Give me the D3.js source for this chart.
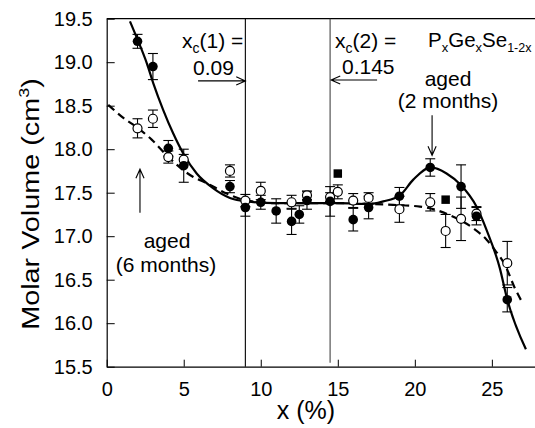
<!DOCTYPE html>
<html><head><meta charset="utf-8">
<script src="https://cdn.jsdelivr.net/npm/d3@7/dist/d3.min.js"></script>
<style>
html,body{margin:0;padding:0;background:#fff;}
svg{display:block;font-family:"Liberation Sans",Arial,sans-serif;}
</style></head>
<body><svg id="c" width="535" height="428"></svg>
<script>
// ---- data ----
const xTicks = [0, 5, 10, 15, 20, 25];
const yTicks = [15.5, 16.0, 16.5, 17.0, 17.5, 18.0, 18.5, 19.0, 19.5];

// filled circles (aged 2 months)
const filledX   = [2, 3, 4, 5, 8, 9, 10, 11, 12, 12.5, 13, 14.5, 16, 17, 19, 21, 23, 24, 26];
const filledY   = [19.24, 18.95, 18.01, 17.81, 17.57, 17.33, 17.39, 17.29, 17.17, 17.25, 17.41, 17.40, 17.19, 17.33, 17.46, 17.79, 17.57, 17.23, 16.27];
const filledErr = [0.08, 0.15, 0.09, 0.19, 0.07, 0.10, 0.08, 0.14, 0.15, 0.10, 0.10, 0.17, 0.13, 0.13, 0.10, 0.10, 0.25, 0.10, 0.14];

// open circles (aged 6 months)
const openX   = [2, 3, 4, 5, 8, 9, 10, 12, 13, 14.5, 15, 16, 17, 19, 21, 22, 23, 24, 26];
const openY   = [18.24, 18.35, 17.91, 17.88, 17.75, 17.41, 17.52, 17.39, 17.47, 17.45, 17.51, 17.41, 17.44, 17.31, 17.39, 17.06, 17.20, 17.26, 16.69];
const openErr = [0.11, 0.10, 0.07, 0.06, 0.07, 0.07, 0.10, 0.08, 0.05, 0.05, 0.08, 0.08, 0.06, 0.15, 0.10, 0.19, 0.25, 0.08, 0.25];

// filled squares
const squareX = [15, 22];
const squareY = [17.72, 17.42];

// fitted curves (read-off samples)
const solidX = [1.51, 2.05, 2.6, 3.02, 3.67, 4.32, 4.97, 5.84, 6.92, 8.0, 9.08, 11, 13, 15, 17.1, 17.95, 19.03, 19.9, 21.04, 22.06, 22.97, 24.0, 24.66, 25.52, 25.96, 27.21];
const solidY = [19.47, 19.24, 18.99, 18.76, 18.45, 18.18, 17.95, 17.72, 17.55, 17.44, 17.40, 17.38, 17.38, 17.38, 17.37, 17.40, 17.47, 17.65, 17.79, 17.72, 17.59, 17.34, 17.07, 16.63, 16.30, 15.70];
const dashX = [0.1, 1.08, 2.05, 2.92, 4.0, 5.62, 6.49, 7.79, 8.86, 11, 13, 15, 17.1, 18.6, 20.33, 21.4, 22.28, 23.8, 24.66, 25.2, 25.85, 26.5, 27.0];
const dashY = [18.51, 18.36, 18.24, 18.11, 17.91, 17.68, 17.61, 17.49, 17.42, 17.38, 17.38, 17.38, 17.37, 17.36, 17.34, 17.30, 17.24, 17.09, 16.96, 16.84, 16.67, 16.40, 16.23];

// critical compositions
const critX = [9, 14.5];

// ---- drawing ----
const svg = d3.select("#c");
const L = 106.7, R = 535, T = 18.7, B = 366.7;
const x = d3.scaleLinear().domain([0, 27.8]).range([L, R]);
const y = d3.scaleLinear().domain([15.5, 19.5]).range([B, T]);
const font = '"Liberation Sans",Arial,sans-serif';

// top border
svg.append("line").attr("x1", L).attr("x2", R).attr("y1", T).attr("y2", T)
  .attr("stroke", "#000").attr("stroke-width", 1.2);

// axes
const gy = svg.append("g").attr("transform", `translate(${L},0)`)
  .call(d3.axisLeft(y).tickValues(yTicks).tickSizeInner(-8).tickSizeOuter(0).tickPadding(14).tickFormat(d3.format(".1f")));
const gx = svg.append("g").attr("transform", `translate(0,${B})`)
  .call(d3.axisBottom(x).tickValues(xTicks).tickSizeInner(-7).tickSizeOuter(0).tickPadding(15).tickFormat(d3.format("d")));
[gx, gy].forEach(g => {
  g.select(".domain").attr("stroke", "#000").attr("stroke-width", 1.2);
  g.selectAll(".tick line").attr("stroke", "#000").attr("stroke-width", 1);
  g.selectAll(".tick text").attr("font-size", 20).attr("font-family", font).attr("fill", "#000");
});

// vertical critical lines
svg.selectAll("line.crit").data(critX).join("line").attr("class", "crit")
  .attr("x1", d => x(d)).attr("x2", d => x(d))
  .attr("y1", T).attr("y2", (d, i) => i === 0 ? B : B - 4)
  .attr("stroke", (d, i) => i === 0 ? "#000" : "#444").attr("stroke-width", 1.1);

// fitted curves
const solidPts = solidX.map((v, i) => [v, solidY[i]]);
const dashPts = dashX.map((v, i) => [v, dashY[i]]);
const line = d3.line().x(d => x(d[0])).y(d => y(d[1])).curve(d3.curveMonotoneX);
svg.append("path").attr("d", line(solidPts)).attr("fill", "none")
  .attr("stroke", "#000").attr("stroke-width", 2.2);
svg.append("path").attr("d", line(dashPts)).attr("fill", "none")
  .attr("stroke", "#000").attr("stroke-width", 2.2).attr("stroke-dasharray", "8,5");

// error bars
function errBars(xs, ys, es) {
  const d = xs.map((v, i) => ({x: v, y: ys[i], e: es[i]}));
  const g = svg.append("g").attr("stroke", "#000").attr("stroke-width", 1.1);
  g.selectAll("line.v").data(d).join("line").attr("class", "v")
    .attr("x1", p => x(p.x)).attr("x2", p => x(p.x))
    .attr("y1", p => y(p.y - p.e)).attr("y2", p => y(p.y + p.e));
  g.selectAll("line.t").data(d).join("line").attr("class", "t")
    .attr("x1", p => x(p.x) - 5).attr("x2", p => x(p.x) + 5)
    .attr("y1", p => y(p.y + p.e)).attr("y2", p => y(p.y + p.e));
  g.selectAll("line.b").data(d).join("line").attr("class", "b")
    .attr("x1", p => x(p.x) - 5).attr("x2", p => x(p.x) + 5)
    .attr("y1", p => y(p.y - p.e)).attr("y2", p => y(p.y - p.e));
}
errBars(openX, openY, openErr);
errBars(filledX, filledY, filledErr);

// markers
svg.append("g").selectAll("circle").data(openX.map((v, i) => [v, openY[i]])).join("circle")
  .attr("cx", d => x(d[0])).attr("cy", d => y(d[1])).attr("r", 4.5)
  .attr("fill", "#fff").attr("stroke", "#000").attr("stroke-width", 1.2);
svg.append("g").selectAll("circle").data(filledX.map((v, i) => [v, filledY[i]])).join("circle")
  .attr("cx", d => x(d[0])).attr("cy", d => y(d[1])).attr("r", 4.8)
  .attr("fill", "#000");
svg.append("g").selectAll("path").data(squareX.map((v, i) => [v, squareY[i]])).join("path")
  .attr("transform", d => `translate(${x(d[0])},${y(d[1])})`)
  .attr("d", d3.symbol(d3.symbolSquare, 72)).attr("fill", "#000");

// arrows (open heads)
function arrow(x1, y1, x2, y2) {
  const ang = Math.atan2(y2 - y1, x2 - x1), h = 10, w = 0.42;
  const p = d3.path();
  p.moveTo(x1, y1); p.lineTo(x2, y2);
  p.moveTo(x2 - h * Math.cos(ang - w), y2 - h * Math.sin(ang - w)); p.lineTo(x2, y2);
  p.lineTo(x2 - h * Math.cos(ang + w), y2 - h * Math.sin(ang + w));
  svg.append("path").attr("d", p.toString()).attr("fill", "none")
    .attr("stroke", "#000").attr("stroke-width", 1.1);
}
arrow(x(5.93), y(18.785), x(critX[0]), y(18.785));
arrow(x(17.55), y(18.795), x(critX[1]) + 1, y(18.795));
arrow(x(21.12), y(18.39), x(21.12), y(17.93));
arrow(x(2.16), y(17.27), x(2.16), y(17.77));

// text
function txt(xp, yp, anchor, size) {
  return svg.append("text").attr("x", xp).attr("y", yp).attr("text-anchor", anchor)
    .attr("font-size", size).attr("font-family", font).attr("fill", "#000");
}
let t = txt(182, 48, "start", 21);
t.append("tspan").text("x");
t.append("tspan").attr("font-size", 14).attr("dy", 5).text("c");
t.append("tspan").attr("dy", -5).text("(1) =");
txt(193, 75, "start", 21).text("0.09");

t = txt(335, 48, "start", 21);
t.append("tspan").text("x");
t.append("tspan").attr("font-size", 14).attr("dy", 5).text("c");
t.append("tspan").attr("dy", -5).text("(2) =");
txt(342, 74, "start", 21).text("0.145");

t = txt(428, 47, "start", 20.5);
t.append("tspan").text("P");
t.append("tspan").attr("font-size", 13).attr("dy", 5).text("x");
t.append("tspan").attr("dy", -5).text("Ge");
t.append("tspan").attr("font-size", 13).attr("dy", 5).text("x");
t.append("tspan").attr("dy", -5).text("Se");
t.append("tspan").attr("font-size", 12.5).attr("dy", 5).text("1-2x");

txt(448, 86, "middle", 21).text("aged");
txt(448, 108, "middle", 21).text("(2 months)");
txt(167, 248, "middle", 21).text("aged");
txt(166, 272, "middle", 21).text("(6 months)");

// axis titles
txt(306, 419, "middle", 25).text("x (%)");
const yl = svg.append("text").attr("transform", "translate(38.5,204) rotate(-90) scale(1.2,1)")
  .attr("text-anchor", "middle").attr("font-size", 24).attr("font-family", font).attr("fill", "#000");
yl.append("tspan").text("Molar Volume (cm");
yl.append("tspan").attr("font-size", 15).attr("dy", -10).text("3");
yl.append("tspan").attr("dy", 10).text(")");
</script></body></html>
